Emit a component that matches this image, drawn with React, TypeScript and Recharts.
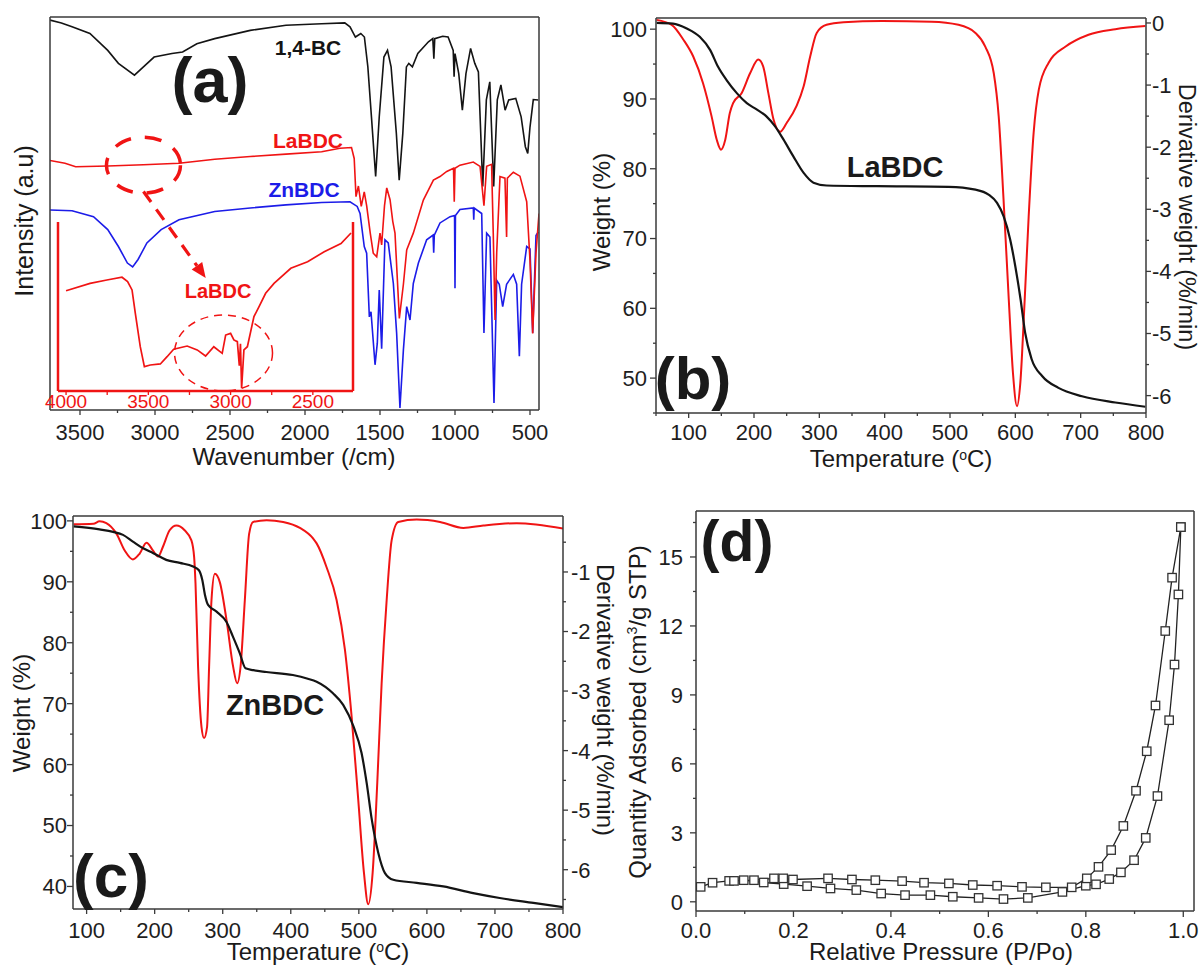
import React from "react";
import { LineChart, Line, XAxis, YAxis, ReferenceDot, ReferenceLine } from "recharts";

type Pt = [number, number];

// ---- (a) FTIR spectra: [wavenumber, intensity on a 0-100 frame scale]
const bcSpectrum: Pt[] = [
  [3700, 99.2], [3624, 98.5], [3553, 97.5], [3434, 95.8], [3315, 91.5], [3244, 88.2], [3137, 85.2],
  [3077, 87.3], [3006, 89.8], [2887, 90.7], [2816, 91.1], [2721, 93.2], [2602, 94.5], [2365, 96.6],
  [2127, 97.9], [1889, 98.3], [1735, 98.5], [1700, 97.5], [1664, 94.9], [1628, 95.8], [1604, 94.9],
  [1581, 87.3], [1557, 74.6], [1529, 59.4], [1505, 74.6], [1474, 89.8], [1450, 91.5], [1426, 87.3],
  [1391, 70.4], [1372, 58.5], [1348, 70.4], [1324, 87.3], [1308, 88.2], [1284, 87.3], [1248, 90.7],
  [1177, 93.7], [1148, 94.5], [1141, 89.4], [1135, 94.5], [1082, 95.1], [1046, 94.9], [1012, 91.5],
  [1006, 84.8], [1000, 90.7], [975, 85.6], [951, 76.3], [927, 85.6], [896, 92], [868, 88.2],
  [844, 86], [815, 56.9], [791, 78.9], [768, 83.5], [742, 56.9], [718, 78.9], [694, 82.7],
  [666, 76.3], [642, 78.9], [595, 79.3], [559, 74.6], [531, 67], [515, 65.3], [500, 72],
  [478, 79], [445, 78.9],
];

const laSpectrum: Pt[] = [
  [3700, 63.5], [3600, 62.8], [3529, 61.9], [3315, 62.1], [3077, 62.4], [2840, 62.8], [2602, 63.8],
  [2365, 64.5], [2127, 65.1], [1889, 65.7], [1767, 66.6], [1690, 66.8], [1672, 64], [1660, 54.3],
  [1644, 57], [1625, 51.8], [1605, 55.5], [1589, 52], [1565, 45], [1545, 39.9], [1522, 39],
  [1500, 45], [1489, 42], [1470, 52], [1455, 56.5], [1433, 53.5], [1415, 48], [1400, 45],
  [1384, 33], [1371, 23.3], [1344, 32], [1322, 40.7], [1278, 45], [1211, 53.4], [1144, 58.5],
  [1100, 59.4], [1055, 60.7], [1010, 61.5], [1005, 53], [1000, 61.5], [967, 62.3], [878, 63.1],
  [833, 62], [807, 52], [789, 62], [756, 62.5], [745, 45], [733, 22.9], [722, 40], [700, 59.4],
  [667, 59], [656, 44], [651, 59], [611, 60.5], [567, 59.5], [522, 53], [500, 38], [482, 19.5],
  [460, 40], [440, 50],
];

const znSpectrum: Pt[] = [
  [3700, 50.9], [3553, 50.7], [3410, 49.2], [3315, 45.9], [3244, 41.6], [3184, 37.4], [3149, 36.4],
  [3113, 38.3], [3054, 42.5], [2959, 45.9], [2840, 48.4], [2602, 50.5], [2365, 51.4], [2127, 52.2],
  [1889, 52.8], [1700, 53], [1652, 51.8], [1633, 50], [1605, 41.6], [1589, 39.9], [1571, 23.7],
  [1560, 25], [1533, 11.5], [1518, 17], [1505, 30.5], [1489, 15.6], [1467, 43.3], [1445, 42.5],
  [1411, 32.2], [1389, 19.5], [1367, 0.5], [1344, 15.3], [1322, 26.3], [1300, 22.9], [1278, 32.2],
  [1244, 37.4], [1189, 43.3], [1146, 44.5], [1142, 40], [1138, 44.5], [1100, 47.6], [1033, 49.2],
  [1003, 49.5], [1000, 31], [997, 49.5], [967, 51], [878, 51.4], [875, 48.4], [872, 51.4],
  [822, 50], [807, 19.6], [789, 45], [767, 44], [740, 1.8], [722, 33], [705, 32], [682, 26.3],
  [656, 32], [611, 34.5], [589, 32], [571, 13.7], [556, 32], [522, 41.6], [500, 41], [482, 19.6],
  [460, 44.4], [445, 45.3],
];

const laInset: Pt[] = [
  [4000, 59.3], [3854, 63.7], [3752, 65.7], [3660, 67.3], [3626, 64.7], [3599, 59.8], [3579, 46],
  [3549, 26.2], [3524, 14.4], [3488, 15.4], [3427, 16], [3386, 20.3], [3346, 24.7], [3264, 26.6],
  [3203, 24.3], [3152, 20.7], [3102, 26.2], [3051, 22.3], [3030, 33.1], [3000, 34.1], [2980, 30.2],
  [2959, 29.2], [2947, 15], [2940, 28], [2933, 1.6], [2919, 24.3], [2898, 26.2], [2858, 44],
  [2827, 49.9], [2787, 57.8], [2736, 63.7], [2634, 72.6], [2532, 76.5], [2431, 82.4], [2329, 87.3],
  [2268, 93.5],
];

const irMajor = [3500, 3000, 2500, 2000, 1500, 1000, 500];
const irMinor = [3250, 2750, 2250, 1750, 1250, 750];
const insetMajor = [4000, 3500, 3000, 2500];
const insetMinor = [3750, 3250, 2750];

// annotation anchors (data coordinates)
const bigCircle = { x: 3077, y: 62.3 };
const arrowFrom = { x: 3077, y: 55.6 };
const arrowTo = { x: 2662, y: 33.6 };
const insetCircle = { x: 3043, y: 22.5 };

// ---- (b) LaBDC TGA: [temperature, weight %] and [temperature, derivative]
const laWeight: Pt[] = [
  [51, 100.9], [76, 100.8], [97, 100.1], [117, 98.9], [133, 97], [145, 94.6], [158, 92.7],
  [174, 90.8], [189, 89.4], [204, 88.5], [219, 87.5], [232, 86.1], [245, 84.2], [260, 81.8],
  [276, 79.4], [291, 78], [311, 77.6], [388, 77.5], [498, 77.4], [539, 77], [559, 76.3],
  [572, 75.1], [582, 73.2], [592, 69.9], [600, 66], [608, 61.3], [615, 56.5], [625, 52.7],
  [641, 50.3], [666, 48.6], [702, 47.4], [753, 46.5], [799, 45.9],
];
const laDeriv: Pt[] = [
  [51, 0.05], [74, -0.03], [92, -0.27], [107, -0.54], [122, -0.97], [135, -1.5], [143, -1.88],
  [149.5, -2.04], [156, -1.88], [163, -1.45], [168, -1.29], [181, -1.13], [194, -0.81],
  [206.6, -0.59], [214, -0.7], [222, -1.13], [230, -1.56], [240, -1.75], [250, -1.61],
  [265, -1.34], [276, -1.02], [286, -0.54], [296, -0.16], [311, -0.03], [337, 0.01], [396, 0.03],
  [472, 0.02], [513, -0.03], [539, -0.16], [554, -0.38], [567, -0.81], [574.5, -1.5], [582, -2.85],
  [590, -4.46], [596.4, -5.64], [602.6, -6.17], [607.6, -5.8], [614.3, -4.46], [620.4, -3.12],
  [628, -1.77], [636, -1.07], [651, -0.64], [677, -0.38], [712, -0.19], [753, -0.1], [799, -0.05],
];

// ---- (c) ZnBDC TGA
const znWeight: Pt[] = [
  [81, 99.1], [119, 98.6], [139, 98.2], [153.5, 97.7], [168, 96.6], [183, 95.5], [198, 94.7],
  [217, 93.6], [237, 93.1], [256.5, 92.5], [265, 91.9], [270, 90.3], [274, 87.8], [278.5, 86.2],
  [291, 85.1], [305.6, 83.4], [315, 81], [325, 78.3], [333.5, 75.8], [345, 75.5], [364, 75.2],
  [403, 74.7], [425, 74.1], [438, 73.6], [462, 71.7], [477, 69.8], [492, 66.3], [504, 61.9],
  [511.5, 57], [519, 51], [528.6, 45.5], [538.4, 42.2], [550.6, 41.1], [585, 40.6], [624, 40],
  [668, 38.9], [707, 38.1], [756.5, 37.3], [800, 36.6],
];
const znDeriv: Pt[] = [
  [81, -0.2], [110, -0.19], [119, -0.15], [129, -0.18], [144, -0.36], [156, -0.64], [168, -0.79],
  [178, -0.69], [188, -0.51], [197.6, -0.64], [205, -0.74], [212, -0.58], [222, -0.3], [232, -0.22],
  [244, -0.3], [254, -0.47], [258, -0.75], [260, -1.19], [263.8, -2.59], [268.8, -3.6],
  [272.6, -3.79], [277, -3.6], [280, -2.59], [283.5, -1.47], [288.4, -1.03], [295.7, -1.17],
  [305.6, -1.81], [315.3, -2.59], [321.2, -2.87], [326.2, -2.59], [332.5, -1.47], [338.8, -0.36],
  [344.7, -0.16], [364.4, -0.13], [388.8, -0.16], [413.4, -0.26], [433, -0.44], [438, -0.52],
  [452.6, -0.92], [467.3, -1.47], [479.6, -2.31], [489.4, -3.43], [499.1, -4.82], [507.5, -6.05],
  [513.8, -6.58], [520.3, -6.05], [527.1, -4.54], [533.5, -2.87], [540.9, -1.47], [548.2, -0.47],
  [557.9, -0.16], [585, -0.12], [619.3, -0.16], [653.6, -0.26], [683, -0.22], [732, -0.18],
  [800, -0.27],
];

const tempMajorB = [100, 200, 300, 400, 500, 600, 700, 800];
const tempMinorB = [50, 150, 250, 350, 450, 550, 650, 750];
const weightMajorB = [50, 60, 70, 80, 90, 100];
const weightMinorB = [45, 55, 65, 75, 85, 95];
const derivMajorB = [0, -1, -2, -3, -4, -5, -6];
const derivMinorB = [-0.5, -1.5, -2.5, -3.5, -4.5, -5.5];
const tempMajorC = [100, 200, 300, 400, 500, 600, 700, 800];
const tempMinorC = [150, 250, 350, 450, 550, 650, 750];
const weightMajorC = [40, 50, 60, 70, 80, 90, 100];
const weightMinorC = [45, 55, 65, 75, 85, 95];
const derivMajorC = [-1, -2, -3, -4, -5, -6];
const derivMinorC = [-0.5, -1.5, -2.5, -3.5, -4.5, -5.5, -6.5];

// ---- (d) N2 isotherm: [P/Po, quantity adsorbed]
const adsorption: Pt[] = [
  [0.0096, 0.65], [0.034, 0.83], [0.068, 0.91], [0.098, 0.94], [0.139, 0.84], [0.18, 0.77],
  [0.228, 0.68], [0.276, 0.58], [0.329, 0.51], [0.38, 0.36], [0.429, 0.29], [0.481, 0.29],
  [0.527, 0.22], [0.58, 0.17], [0.631, 0.12], [0.681, 0.17], [0.752, 0.43], [0.8, 0.7],
  [0.821, 0.76], [0.848, 0.99], [0.872, 1.28], [0.899, 1.81], [0.923, 2.78], [0.947, 4.6],
  [0.971, 7.9], [0.982, 10.32], [0.99, 13.37], [0.995, 16.3],
];
const desorption: Pt[] = [
  [0.995, 16.3], [0.977, 14.1], [0.963, 11.78], [0.943, 8.54], [0.925, 6.55], [0.903, 4.83],
  [0.877, 3.3], [0.852, 2.25], [0.826, 1.52], [0.802, 1.02], [0.771, 0.63], [0.718, 0.63],
  [0.669, 0.65], [0.618, 0.7], [0.568, 0.73], [0.519, 0.8], [0.468, 0.83], [0.423, 0.9],
  [0.368, 0.94], [0.32, 0.97], [0.271, 1.02], [0.199, 0.97], [0.179, 1.02], [0.16, 1.02],
  [0.119, 0.94], [0.078, 0.91],
];
const pMajor = [0, 0.2, 0.4, 0.6, 0.8, 1.0];
const pMinor = [0.1, 0.3, 0.5, 0.7, 0.9];
const qMajor = [0, 3, 6, 9, 12, 15];
const qMinor = [1.5, 4.5, 7.5, 10.5, 13.5, 16.5];

const FONT = "'Liberation Sans', Arial, Helvetica, sans-serif";
const RED = "#f01414";
const BLUE = "#1c1ce8";
const INK = "#141414";
const frame = { stroke: "#3a3a3a", strokeWidth: 1.5 };
const redFrame = { stroke: RED, strokeWidth: 2.5 };

const toPts = (a: Pt[]) => a.map(([x, y]) => ({ x, y }));

type TickOpt = {
  gap?: number;
  len?: number;
  minor?: number;
  size?: number;
  color?: string;
  line?: string;
  fmt?: (v: number) => string;
};

function axisTick(side: "left" | "right" | "bottom", majors: number[], o: TickOpt = {}) {
  const { gap = 8, len = 5, minor = 3, size = 22, color = "#1e1e1e", line = "#3a3a3a" } = o;
  const fmt = o.fmt || ((v: number) => String(v));
  return (p: any) => {
    const v = Number(p.payload.value);
    const major = majors.some((m) => Math.abs(m - v) < 1e-6);
    const l = major ? len : minor;
    const { x, y } = p;
    const txt = { fontFamily: FONT, fontSize: size, fill: color };
    if (side === "bottom") {
      return (
        <g>
          <line x1={x} y1={y} x2={x} y2={y + l} stroke={line} strokeWidth={1.3} />
          {major && (
            <text x={x} y={y + gap} textAnchor="middle" {...txt}>
              {fmt(v)}
            </text>
          )}
        </g>
      );
    }
    const s = side === "left" ? -1 : 1;
    return (
      <g>
        <line x1={x} y1={y} x2={x + s * l} y2={y} stroke={line} strokeWidth={1.3} />
        {major && (
          <text x={x + s * gap} y={y} dy="0.36em" textAnchor={side === "left" ? "end" : "start"} {...txt}>
            {fmt(v)}
          </text>
        )}
      </g>
    );
  };
}

const DashedArrow = (p: any) => {
  const { x1, y1, x2, y2 } = p;
  const a = Math.atan2(y2 - y1, x2 - x1);
  const h = 15;
  const w = 6.5;
  const bx = x2 - h * Math.cos(a);
  const by = y2 - h * Math.sin(a);
  const pts = `${x2},${y2} ${bx + w * Math.sin(a)},${by - w * Math.cos(a)} ${bx - w * Math.sin(a)},${by + w * Math.cos(a)}`;
  return (
    <g>
      <line x1={x1} y1={y1} x2={bx} y2={by} stroke={RED} strokeWidth={3.2} strokeDasharray="13 9" />
      <polygon points={pts} fill={RED} />
    </g>
  );
};

const SquareDot = (p: any) => (
  <rect key={`sq-${p.index}`} x={p.cx - 4.2} y={p.cy - 4.2} width={8.4} height={8.4} fill="#fff" stroke="#333" strokeWidth={1.3} />
);

const noTick = { tick: false as const, tickLine: false };

// axes are given 1px of width/height (Recharts skips axes that are 0 wide); margins make up for it
function PanelA() {
  return (
    <>
      <div style={{ position: "absolute", left: 0, top: 0 }}>
        <LineChart width={560} height={480} margin={{ top: 16, right: 20, bottom: 69, left: 49 }}>
          <XAxis dataKey="x" type="number" domain={[440, 3700]} reversed allowDataOverflow
            ticks={[...irMajor, ...irMinor]} interval={0} height={1} tickSize={0} tickMargin={0}
            tickLine={false} axisLine={frame} tick={axisTick("bottom", irMajor, { gap: 30 })} />
          <XAxis xAxisId="top" orientation="top" dataKey="x" type="number" domain={[440, 3700]} reversed
            height={1} axisLine={frame} {...noTick} />
          <YAxis type="number" domain={[0, 100]} allowDataOverflow width={1} axisLine={frame} {...noTick} />
          <YAxis yAxisId="r" orientation="right" type="number" domain={[0, 100]} width={1} axisLine={frame} {...noTick} />
          <ReferenceDot x={bigCircle.x} y={bigCircle.y} r={1} ifOverflow="visible"
            shape={(p: any) => (
              <ellipse cx={p.cx} cy={p.cy} rx={37} ry={28} fill="none" stroke={RED} strokeWidth={3.5} strokeDasharray="17 14" />
            )} />
          <ReferenceLine segment={[arrowFrom, arrowTo]} ifOverflow="visible" shape={DashedArrow} />
          <Line data={toPts(bcSpectrum)} dataKey="y" type="linear" stroke={INK} strokeWidth={1.6} dot={false} isAnimationActive={false} />
          <Line data={toPts(znSpectrum)} dataKey="y" type="linear" stroke={BLUE} strokeWidth={1.6} dot={false} isAnimationActive={false} />
          <Line data={toPts(laSpectrum)} dataKey="y" type="linear" stroke={RED} strokeWidth={1.6} dot={false} isAnimationActive={false} />
        </LineChart>
      </div>
      <div style={{ position: "absolute", left: 0, top: 0 }}>
        <LineChart width={560} height={480} margin={{ top: 222, right: 206, bottom: 88, left: 57 }}>
          <XAxis dataKey="x" type="number" domain={[2256, 4049]} reversed allowDataOverflow
            ticks={[...insetMajor, ...insetMinor]} interval={0} height={1} tickSize={0} tickMargin={0}
            tickLine={false} axisLine={redFrame}
            tick={axisTick("bottom", insetMajor, { gap: 17, size: 19, color: RED, line: RED, len: 4, minor: 4 })} />
          <YAxis type="number" domain={[0, 100]} allowDataOverflow width={1} axisLine={redFrame} {...noTick} />
          <YAxis yAxisId="r" orientation="right" type="number" domain={[0, 100]} width={1} axisLine={redFrame} {...noTick} />
          <ReferenceDot x={insetCircle.x} y={insetCircle.y} r={1} ifOverflow="visible"
            shape={(p: any) => (
              <ellipse cx={p.cx} cy={p.cy} rx={49} ry={38} fill="none" stroke={RED} strokeWidth={1.5} strokeDasharray="8 6" />
            )} />
          <Line data={toPts(laInset)} dataKey="y" type="linear" stroke={RED} strokeWidth={1.7} dot={false} isAnimationActive={false} />
        </LineChart>
      </div>
    </>
  );
}

function TgaPanel(props: {
  left: number; top: number; width: number; height: number;
  margin: { top: number; right: number; bottom: number; left: number };
  tDomain: [number, number]; wDomain: [number, number]; dDomain: [number, number];
  tMajor: number[]; tMinor: number[]; wMajor: number[]; wMinor: number[]; dMajor: number[]; dMinor: number[];
  weight: Pt[]; deriv: Pt[]; wGap: number; dGap: number; tGap: number;
}) {
  const p = props;
  return (
    <div style={{ position: "absolute", left: p.left, top: p.top }}>
      <LineChart width={p.width} height={p.height} margin={p.margin}>
        <XAxis dataKey="x" type="number" domain={p.tDomain} allowDataOverflow ticks={[...p.tMajor, ...p.tMinor]}
          interval={0} height={1} tickSize={0} tickMargin={0} tickLine={false} axisLine={frame}
          tick={axisTick("bottom", p.tMajor, { gap: p.tGap })} />
        <XAxis xAxisId="top" orientation="top" dataKey="x" type="number" domain={p.tDomain} height={1}
          axisLine={frame} {...noTick} />
        <YAxis yAxisId="w" type="number" domain={p.wDomain} allowDataOverflow ticks={[...p.wMajor, ...p.wMinor]}
          interval={0} width={1} tickSize={0} tickMargin={0} tickLine={false} axisLine={frame}
          tick={axisTick("left", p.wMajor, { gap: p.wGap, len: 6 })} />
        <YAxis yAxisId="d" orientation="right" type="number" domain={p.dDomain} allowDataOverflow
          ticks={[...p.dMajor, ...p.dMinor]} interval={0} width={1} tickSize={0} tickMargin={0}
          tickLine={false} axisLine={frame} tick={axisTick("right", p.dMajor, { gap: p.dGap })} />
        <Line yAxisId="d" data={toPts(p.deriv)} dataKey="y" type="monotone" stroke={RED} strokeWidth={2}
          dot={false} isAnimationActive={false} />
        <Line yAxisId="w" data={toPts(p.weight)} dataKey="y" type="monotone" stroke={INK} strokeWidth={2.2}
          dot={false} isAnimationActive={false} />
      </LineChart>
    </div>
  );
}

function PanelD() {
  return (
    <div style={{ position: "absolute", left: 620, top: 480 }}>
      <LineChart width={582} height={485} margin={{ top: 30, right: 7, bottom: 53, left: 75 }}>
        <XAxis dataKey="x" type="number" domain={[0, 1.022]} allowDataOverflow ticks={[...pMajor, ...pMinor]}
          interval={0} height={1} tickSize={0} tickMargin={0} tickLine={false} axisLine={frame}
          tick={axisTick("bottom", pMajor, { gap: 27, len: 6, fmt: (v) => v.toFixed(1) })} />
        <XAxis xAxisId="top" orientation="top" dataKey="x" type="number" domain={[0, 1.022]} height={1}
          axisLine={frame} {...noTick} />
        <YAxis type="number" domain={[-0.4, 17]} allowDataOverflow ticks={[...qMajor, ...qMinor]} interval={0}
          width={1} tickSize={0} tickMargin={0} tickLine={false} axisLine={frame}
          tick={axisTick("left", qMajor, { gap: 13, len: 6 })} />
        <YAxis yAxisId="r" orientation="right" type="number" domain={[-0.4, 17]} width={1} axisLine={frame} {...noTick} />
        <Line data={toPts(adsorption)} dataKey="y" type="linear" stroke="#222" strokeWidth={1.3}
          dot={SquareDot} isAnimationActive={false} />
        <Line data={toPts(desorption)} dataKey="y" type="linear" stroke="#222" strokeWidth={1.3}
          dot={SquareDot} isAnimationActive={false} />
      </LineChart>
    </div>
  );
}

function T(props: { x: number; y: number; size?: number; rotate?: number; bold?: boolean; fill?: string; children: React.ReactNode }) {
  const { x, y, size = 24, rotate = 0, bold = false, fill = "#1a1a1a" } = props;
  return (
    <text transform={`translate(${x},${y}) rotate(${rotate})`} dy={rotate ? "0.35em" : 0} textAnchor="middle"
      fontFamily={FONT} fontSize={size} fontWeight={bold ? "bold" : "normal"} fill={fill}>
      {props.children}
    </text>
  );
}

function Overlay() {
  return (
    <svg width={1202} height={965} style={{ position: "absolute", left: 0, top: 0, pointerEvents: "none" }}>
      {/* (a) */}
      <T x={210} y={102} size={63} bold>(a)</T>
      <T x={308} y={55} size={21} bold fill={INK}>1,4-BC</T>
      <T x={308} y={148} size={21} bold fill={RED}>LaBDC</T>
      <T x={304} y={196.5} size={21} bold fill={BLUE}>ZnBDC</T>
      <T x={218} y={298} size={20} bold fill={RED}>LaBDC</T>
      <T x={24} y={221} size={25} rotate={-90}>Intensity (a.u)</T>
      <T x={294} y={465}>Wavenumber (/cm)</T>
      {/* (b) */}
      <T x={693} y={399} size={60} bold>(b)</T>
      <T x={895} y={176.5} size={29} bold>LaBDC</T>
      <T x={602} y={212} rotate={-90}>Weight (%)</T>
      <T x={1187} y={217} size={23.5} rotate={90}>Derivative weight (%/min)</T>
      <T x={901} y={467}>
        Temperature (<tspan dy={-7} fontSize={14}>o</tspan><tspan dy={7}>C)</tspan>
      </T>
      {/* (c) */}
      <T x={111} y={897} size={62} bold>(c)</T>
      <T x={275} y={715} size={29} bold>ZnBDC</T>
      <T x={22} y={713} rotate={-90}>Weight (%)</T>
      <T x={605} y={700} rotate={90}>Derivative weight (%/min)</T>
      <T x={318} y={960}>
        Temperature (<tspan dy={-8} fontSize={14}>o</tspan><tspan dy={8}>C)</tspan>
      </T>
      {/* (d) */}
      <T x={737} y={561} size={57} bold>(d)</T>
      <T x={638} y={712} rotate={-90}>
        Quantity Adsorbed (cm<tspan dy={-9} fontSize={14}>3</tspan><tspan dy={9}>/g STP)</tspan>
      </T>
      <T x={941} y={960}>Relative Pressure (P/Po)</T>
    </svg>
  );
}

export default function App() {
  return (
    <div style={{ position: "absolute", left: 0, top: 0, width: 1202, height: 965, background: "#fff", fontFamily: FONT }}>
      <PanelA />
      <TgaPanel left={560} top={0} width={642} height={480} margin={{ top: 17, right: 55, bottom: 66, left: 95 }}
        tDomain={[50, 800]} wDomain={[45, 101.6]} dDomain={[-6.28, 0.08]}
        tMajor={tempMajorB} tMinor={tempMinorB} wMajor={weightMajorB} wMinor={weightMinorB}
        dMajor={derivMajorB} dMinor={derivMinorB} weight={laWeight} deriv={laDeriv} wGap={9} dGap={6} tGap={27} />
      <TgaPanel left={0} top={480} width={620} height={485} margin={{ top: 35, right: 56, bottom: 55, left: 72 }}
        tDomain={[80, 800]} wDomain={[36.3, 100.8]} dDomain={[-6.66, -0.06]}
        tMajor={tempMajorC} tMinor={tempMinorC} wMajor={weightMajorC} wMinor={weightMinorC}
        dMajor={derivMajorC} dMinor={derivMinorC} weight={znWeight} deriv={znDeriv} wGap={6} dGap={8} tGap={29} />
      <PanelD />
      <Overlay />
    </div>
  );
}
